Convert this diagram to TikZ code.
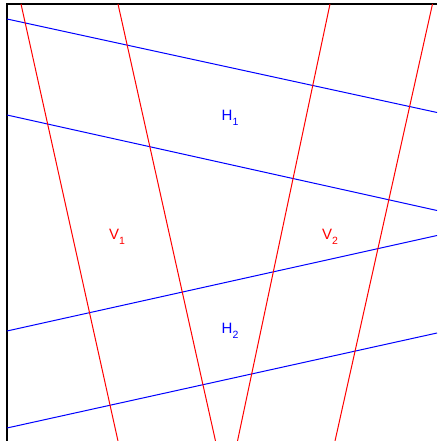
\documentclass[tikz,border=0pt]{standalone}
\usepackage{fontspec}
\setmainfont{Liberation Sans}
\newcommand{\mysub}[1]{\raisebox{-5pt}{\fontsize{10.5}{11}\selectfont #1}}
\begin{document}
\begin{tikzpicture}[x=1pt,y=-1pt,
  hline/.style={blue,line width=1pt},
  vline/.style={red,line width=1pt},
  frame/.style={black,line width=2.2pt},
  hlab/.style={text=blue,font=\fontsize{15}{18}\selectfont,inner sep=0pt},
  vlab/.style={text=red,font=\fontsize{15}{18}\selectfont,inner sep=0pt}]
\useasboundingbox (0,0) rectangle (437,441);
\clip (0,0) rectangle (437,441);
% frame
\coordinate (tl) at (7,4);
\coordinate (tr) at (437,4);
\coordinate (bl) at (7,441);
\draw[frame] (tr) -- (tl) -- (bl);
% blue lines
\coordinate (b1a) at (7,19);   \coordinate (b1b) at (437,112.5);
\coordinate (b2a) at (7,115);  \coordinate (b2b) at (437,210.5);
\coordinate (b3a) at (7,331);  \coordinate (b3b) at (437,235.5);
\coordinate (b4a) at (7,428);  \coordinate (b4b) at (437,333);
\draw[hline] (b1a) -- (b1b);
\draw[hline] (b2a) -- (b2b);
\draw[hline] (b3a) -- (b3b);
\draw[hline] (b4a) -- (b4b);
% red lines
\coordinate (r1a) at (21,4);   \coordinate (r1b) at (118,441);
\coordinate (r2a) at (118,4);  \coordinate (r2b) at (215.5,441);
\coordinate (r3a) at (330,4);  \coordinate (r3b) at (237.5,441);
\coordinate (r4a) at (432.5,4);  \coordinate (r4b) at (335,441);
\draw[vline] (r1a) -- (r1b);
\draw[vline] (r2a) -- (r2b);
\draw[vline] (r3a) -- (r3b);
\draw[vline] (r4a) -- (r4b);
% labels
\node[hlab] (h1) at (230,118) {H\mysub{1}};
\node[hlab] (h2) at (230,331) {H\mysub{2}};
\node[vlab] (v1) at (117,237) {V\mysub{1}};
\node[vlab] (v2) at (330,237) {V\mysub{2}};
\end{tikzpicture}
\end{document}
